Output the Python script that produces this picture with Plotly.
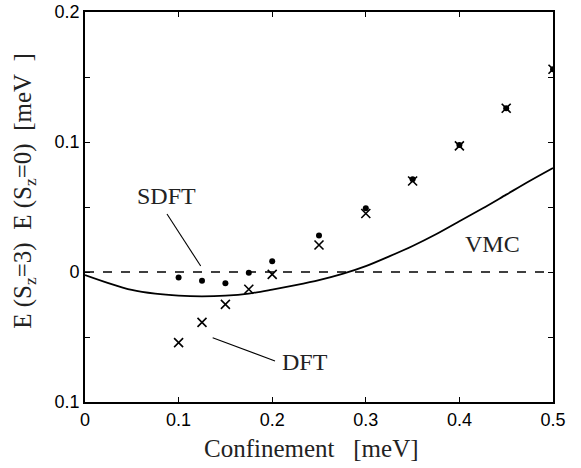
import plotly.graph_objects as go

# Confinement strength [meV]
confinement = [0.1, 0.125, 0.15, 0.175, 0.2, 0.25, 0.3, 0.35, 0.4, 0.45, 0.5]

# Energy differences E(Sz=3) - E(Sz=0) [meV]
sdft = [-0.0043, -0.0067, -0.0087, -0.0005, 0.0082, 0.028, 0.049, 0.0713, 0.0977, 0.126, 0.156]
dft = [-0.0543, -0.0387, -0.0249, -0.0133, -0.0018, 0.0208, 0.045, 0.070, 0.097, 0.126, 0.156]

# VMC curve samples
vmc_x = [0.0, 0.025, 0.05, 0.075, 0.1, 0.125, 0.15, 0.175, 0.2, 0.225, 0.25, 0.275,
         0.3, 0.325, 0.35, 0.375, 0.4, 0.425, 0.45, 0.475, 0.5]
vmc_y = [-0.0023, -0.0085, -0.0138, -0.0167, -0.0182, -0.0187, -0.0182, -0.0166, -0.0135,
         -0.0101, -0.0063, -0.0015, 0.0045, 0.012, 0.020, 0.029, 0.039, 0.049, 0.0595,
         0.070, 0.080]

y_ticks = [-0.1, 0, 0.1, 0.2]
y_ticktext = ["0.1", "0", "0.1", "0.2"]
y_minor_ticks = [-0.05, 0.05, 0.15]
x_ticks = [0, 0.1, 0.2, 0.3, 0.4, 0.5]
x_ticktext = ["0", "0.1", "0.2", "0.3", "0.4", "0.5"]

serif = "Liberation Serif"
sans = "Liberation Sans"
NB = "\u00a0"

fig = go.Figure()

fig.add_trace(go.Scatter(
    x=vmc_x, y=vmc_y, mode="lines", line=dict(color="black", width=1.8, shape="spline", smoothing=0.8),
    showlegend=False, hoverinfo="skip"))

fig.add_trace(go.Scatter(
    x=confinement, y=dft, mode="markers",
    marker=dict(symbol="x-thin", size=9, line=dict(color="black", width=1.6)),
    showlegend=False))

fig.add_trace(go.Scatter(
    x=confinement, y=sdft, mode="markers",
    marker=dict(symbol="circle", size=6, color="black"),
    showlegend=False))

# zero reference line
fig.add_shape(type="line", x0=0, x1=0.5, y0=0, y1=0, xref="x", yref="y",
              line=dict(color="black", width=1.3, dash="dash"), layer="below")

# leader lines for labels
fig.add_shape(type="line", x0=0.0876, y0=0.0446, x1=0.1236, y1=0.0046,
              line=dict(color="black", width=1.1))
fig.add_shape(type="line", x0=0.1364, y0=-0.0505, x1=0.203, y1=-0.0685,
              line=dict(color="black", width=1.1))

label_font = dict(family=serif, size=24, color="#222")
fig.add_annotation(x=0.0876, y=0.0588, text="SDFT", showarrow=False, font=label_font)
fig.add_annotation(x=0.235, y=-0.0695, text="DFT", showarrow=False, font=label_font)
fig.add_annotation(x=0.435, y=0.0215, text="VMC", showarrow=False, font=label_font)

# axis titles
title_font = dict(family=serif, size=25, color="#222")
fig.add_annotation(xref="paper", yref="paper", x=0.485, y=-0.118, yanchor="middle",
                   text="Confinement" + NB * 3 + "[meV]", showarrow=False, font=title_font)
fig.add_annotation(xref="paper", yref="paper", x=-0.13, y=0.542, xanchor="center",
                   yanchor="middle", textangle=-90,
                   text="E (S<sub>z</sub>=3)" + NB * 2 + "E (S<sub>z</sub>=0)" + NB * 2 + "[meV" + NB * 2 + "]",
                   showarrow=False, font=title_font)

axis_common = dict(
    showgrid=False, zeroline=False, showline=True, linecolor="black", linewidth=1.8,
    mirror="ticks", ticks="inside", ticklen=5, tickwidth=1.2, tickcolor="black",
    tickfont=dict(family=sans, size=18, color="black"), automargin=False,
)

fig.update_xaxes(range=[0, 0.5], tickvals=x_ticks, ticktext=x_ticktext, **axis_common)
fig.update_yaxes(range=[-0.1, 0.2], tickvals=y_ticks, ticktext=y_ticktext,
                 minor=dict(tickvals=y_minor_ticks, ticks="inside", ticklen=5, tickwidth=1.2,
                            tickcolor="black", showgrid=False),
                 **axis_common)

fig.update_layout(
    width=581, height=468,
    margin=dict(l=85, r=28, t=12, b=66),
    paper_bgcolor="white", plot_bgcolor="white",
)

fig.write_html("out.html")
